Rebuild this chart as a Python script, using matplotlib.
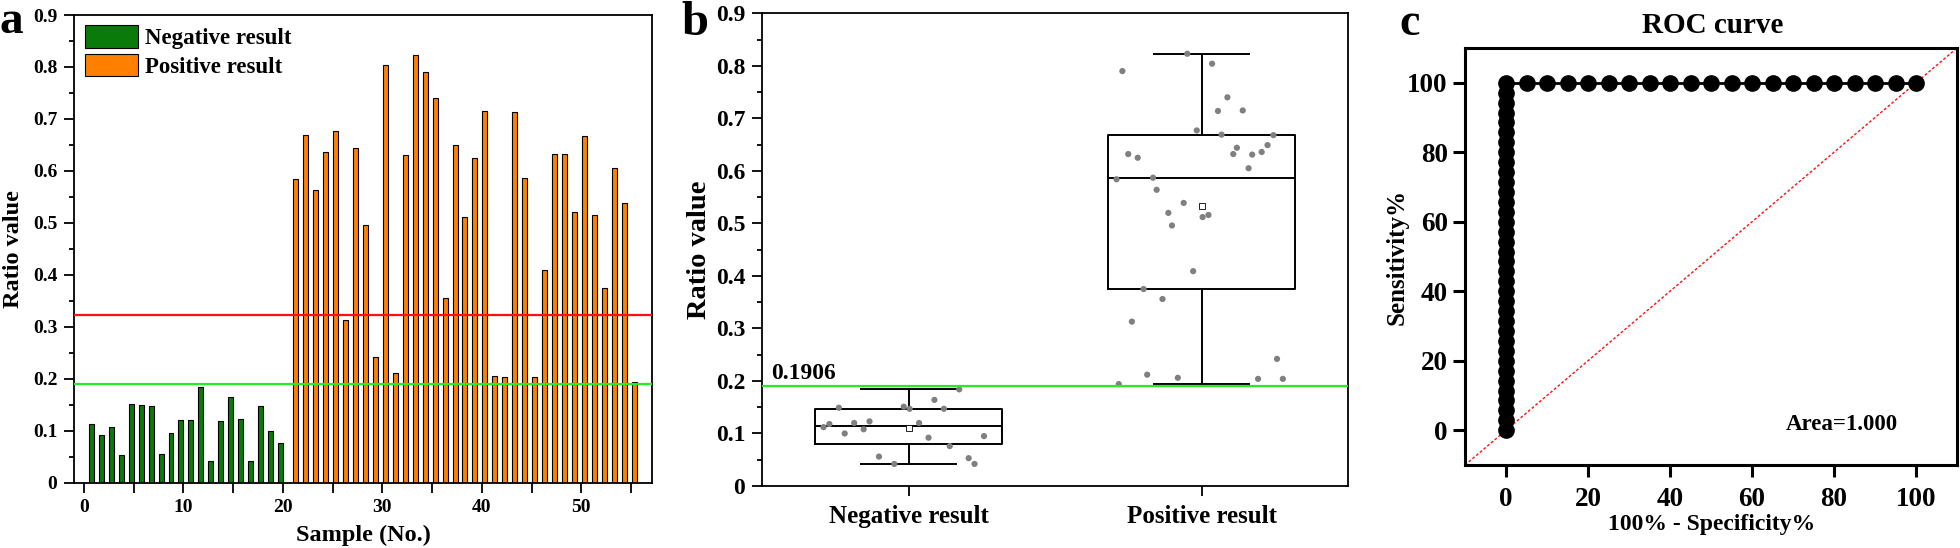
import matplotlib
matplotlib.use('Agg')

import matplotlib.pyplot as plt
from matplotlib.ticker import MultipleLocator
from matplotlib.patches import Patch
import numpy as np

plt.rcParams['font.family'] = ['Liberation Serif', 'DejaVu Serif']
plt.rcParams['font.weight'] = 'bold'
plt.rcParams['axes.labelweight'] = 'bold'

# Ratio values per sample
neg_samples = list(range(1, 21))
neg_values = [0.112, 0.092, 0.108, 0.053, 0.151, 0.149, 0.147, 0.056, 0.095, 0.120,
              0.120, 0.184, 0.042, 0.118, 0.164, 0.123, 0.042, 0.147, 0.100, 0.076]
pos_samples = list(range(21, 56))
pos_values = [0.584, 0.669, 0.564, 0.636, 0.677, 0.313, 0.644, 0.496, 0.242, 0.804,
              0.212, 0.631, 0.823, 0.790, 0.740, 0.356, 0.649, 0.512, 0.625, 0.715,
              0.206, 0.204, 0.714, 0.587, 0.204, 0.409, 0.632, 0.632, 0.520, 0.668,
              0.516, 0.375, 0.605, 0.539, 0.194]

cutoff_red = 0.323
cutoff_green = 0.1906
group_names = ['Negative result', 'Positive result']
auc_text = 'Area=1.000'

GREEN = '#0a7a0a'
ORANGE = '#ff8000'
LIME = '#22ee22'
RED = '#ff1010'


def fig_rect(left, right, top, bottom, W=1960, H=548):
    return [left / W, (H - bottom) / H, (right - left) / W, (bottom - top) / H]


def roc_points(neg, pos):
    # walk the samples from the highest score down
    scores = [(v, 1) for v in pos] + [(v, 0) for v in neg]
    scores.sort(key=lambda s: -s[0])
    tp = fp = 0
    fpr, tpr = [0.0], [0.0]
    for v, lab in scores:
        if lab:
            tp += 1
        else:
            fp += 1
        fpr.append(100.0 * fp / len(neg))
        tpr.append(100.0 * tp / len(pos))
    return fpr, tpr


def style_spines(ax, lw):
    for s in ax.spines.values():
        s.set_linewidth(lw)


def main():
    fig = plt.figure(figsize=(19.6, 5.48), dpi=100)

    # ---------------- panel a: bars ----------------
    ax = fig.add_axes(fig_rect(74, 652, 15, 482.7))
    ax.bar(np.array(neg_samples) - 0.25, neg_values, width=0.5, color=GREEN,
           edgecolor='black', linewidth=0.8, label=group_names[0], zorder=2)
    ax.bar(np.array(pos_samples) + 0.3, pos_values, width=0.5, color=ORANGE,
           edgecolor='black', linewidth=0.8, label=group_names[1], zorder=2)
    ax.axhline(cutoff_red, color=RED, lw=1.6, zorder=3)
    ax.axhline(cutoff_green, color=LIME, lw=1.6, zorder=3)
    ax.set_xlim(-1.0, 57.1)
    ax.set_ylim(0, 0.9)
    ax.xaxis.set_major_locator(MultipleLocator(10))
    ax.xaxis.set_minor_locator(MultipleLocator(5))
    ax.yaxis.set_major_locator(MultipleLocator(0.1))
    ax.yaxis.set_minor_locator(MultipleLocator(0.05))
    ax.yaxis.set_major_formatter(lambda v, p: '0' if abs(v) < 1e-9 else f'{v:.1f}')
    ax.tick_params(which='major', direction='out', length=7, width=1.3, labelsize=14, pad=5)
    ax.tick_params(which='minor', direction='out', length=3.5, width=1.3)
    ax.tick_params(axis='x', which='minor', length=7)
    style_spines(ax, 1.3)
    ax.set_xlabel('Sample (No.)', fontsize=17.5, va='center')
    ax.set_ylabel('Ratio value', fontsize=17.5, va='center')
    ax.xaxis.set_label_coords(0.501, -0.112)
    ax.yaxis.set_label_coords(-0.1055, 0.50)
    handles = [Patch(facecolor=GREEN, edgecolor='black', linewidth=0.8),
               Patch(facecolor=ORANGE, edgecolor='black', linewidth=0.8)]
    ax.legend(handles, group_names, loc='upper left', bbox_to_anchor=(0.019, 0.978),
              frameon=False, fontsize=16.5, borderpad=0, borderaxespad=0,
              handlelength=2.3, handleheight=1.13, labelspacing=0.2, handletextpad=0.3)

    # ---------------- panel b: box plot ----------------
    bx = fig.add_axes(fig_rect(762, 1348, 13.3, 486))
    groups = [np.array(neg_values), np.array(pos_values)]
    stats = []
    for name, g in zip(group_names, groups):
        q1, med, q3 = np.percentile(g, [25, 50, 75], method='weibull')
        stats.append(dict(label=name, med=med, q1=q1, q3=q3, whislo=g.min(),
                          whishi=g.max(), mean=g.mean(), fliers=[]))
    bx.bxp(stats, positions=[1, 2], widths=0.64, capwidths=0.325, showmeans=True,
           boxprops=dict(linewidth=1.4, color='black'),
           whiskerprops=dict(linewidth=1.4, color='black'),
           capprops=dict(linewidth=1.4, color='black'),
           medianprops=dict(linewidth=1.4, color='black'),
           meanprops=dict(marker='s', markerfacecolor='white', markeredgecolor='black',
                          markersize=4.5, markeredgewidth=0.6),
           manage_ticks=False, zorder=2)
    for pos, g in zip([1, 2], groups):
        # deterministic spread of the points around each box
        offs = ((np.arange(len(g)) * 0.6180339) % 1.0 - 0.5) * 0.58
        bx.scatter(pos + offs, g, s=20, color='#808080', edgecolors='none', zorder=3)
    bx.axhline(cutoff_green, color=LIME, lw=1.6, zorder=4)
    bx.text(0.53, 0.204, f'{cutoff_green:.4f}', fontsize=17, ha='left', va='baseline')
    bx.set_xlim(0.5, 2.5)
    bx.set_ylim(0, 0.9)
    bx.set_xticks([1, 2])
    bx.set_xticklabels(group_names)
    bx.yaxis.set_major_locator(MultipleLocator(0.1))
    bx.yaxis.set_minor_locator(MultipleLocator(0.05))
    bx.yaxis.set_major_formatter(lambda v, p: '0' if abs(v) < 1e-9 else f'{v:.1f}')
    bx.tick_params(which='major', direction='out', length=7, width=1.3, labelsize=17, pad=5)
    bx.tick_params(axis='x', labelsize=18, pad=7)
    bx.tick_params(which='minor', direction='out', length=3.5, width=1.3)
    style_spines(bx, 1.3)
    bx.set_ylabel('Ratio value', fontsize=20.5, va='center')
    bx.yaxis.set_label_coords(-0.1067, 0.50)

    # ---------------- panel c: ROC ----------------
    cx = fig.add_axes(fig_rect(1465, 1957, 48, 465))
    fpr, tpr = roc_points(neg_values, pos_values)
    cx.plot([0, 1], [0, 1], transform=cx.transAxes, color=RED, lw=1.0,
            ls=(0, (2, 1.5)), zorder=1)
    cx.plot(fpr, tpr, 'o-', color='black', ms=11, lw=2, zorder=3, clip_on=False)
    cx.set_xlim(-10, 110)
    cx.set_ylim(-10, 110)
    cx.set_xticks(range(0, 101, 20))
    cx.set_yticks(range(0, 101, 20))
    cx.tick_params(direction='out', length=8.5, width=2.2, labelsize=19.5)
    cx.tick_params(axis='x', pad=7)
    cx.tick_params(axis='y', pad=4)
    style_spines(cx, 2.2)
    cx.set_xlabel('100% - Specificity%', fontsize=17, va='center')
    cx.set_ylabel('Sensitivity%', fontsize=18, va='center')
    cx.xaxis.set_label_coords(0.502, -0.1415)
    cx.yaxis.set_label_coords(-0.138, 0.50)
    cx.text(0.504, 1.036, 'ROC curve', transform=cx.transAxes, fontsize=21,
            ha='center', va='baseline')
    cx.text(82, 1.6, auc_text, fontsize=16.5, ha='center', va='center')

    # panel letters
    fig.text(11.5 / 1960, 1 - 33 / 548, 'a', fontsize=34, ha='center', va='baseline')
    fig.text(695 / 1960, 1 - 35 / 548, 'b', fontsize=35, ha='center', va='baseline')
    fig.text(1409.5 / 1960, 1 - 35 / 548, 'c', fontsize=33, ha='center', va='baseline')

    fig.savefig('out.png', dpi=100)


if __name__ == '__main__':
    main()
